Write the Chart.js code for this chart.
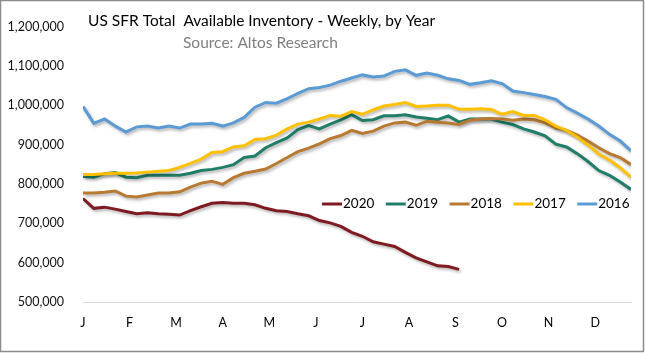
<!DOCTYPE html>
<html>
<head>
<meta charset="utf-8">
<script src="https://cdn.jsdelivr.net/npm/chart.js@4.4.1/dist/chart.umd.min.js"></script>
<style>
    body { margin: 0; background: #fff; }
    canvas { display: block; }
</style>
</head>
<body>
<canvas id="chart" width="645" height="353"></canvas>
<script>
// month tick labels (placed at the start of each month, 52 weeks per year)
const monthLabels = ['J', 'F', 'M', 'A', 'M', 'J', 'J', 'A', 'S', 'O', 'N', 'D'];
const weeksPerYear = 52;

// weekly inventory, in thousands of homes
const years = ['2020', '2019', '2018', '2017', '2016'];
const inv2020 = [763, 738, 741, 736, 730, 724, 727, 724, 723, 721, 732, 742, 751, 753, 751, 751, 747, 738, 732, 730,
                 724, 719, 707, 701, 692, 677, 667, 653, 647, 641, 626, 612, 602, 592, 590, 583];
const inv2019 = [819, 817, 826, 829, 817, 816, 822, 822, 822, 822, 827, 834, 837, 842, 849, 867, 871, 892, 905, 917,
                 938, 948, 940, 952, 963, 976, 961, 963, 973, 973, 976, 970, 967, 963, 973, 957, 965, 965, 965, 957,
                 951, 940, 932, 922, 901, 894, 877, 857, 834, 822, 805, 786];
const inv2018 = [777, 777, 779, 782, 769, 767, 772, 777, 777, 780, 792, 802, 807, 799, 816, 827, 832, 838, 852, 867,
                 882, 891, 902, 915, 923, 936, 928, 934, 947, 955, 957, 949, 959, 957, 955, 951, 962, 965, 966, 965,
                 962, 965, 963, 955, 942, 936, 924, 909, 892, 877, 867, 849];
const inv2017 = [824, 824, 826, 827, 827, 828, 830, 832, 834, 842, 852, 863, 880, 882, 894, 897, 913, 915, 924, 940,
                 952, 957, 965, 974, 972, 984, 977, 988, 998, 1002, 1007, 997, 998, 1000, 1000, 990, 990, 991, 989, 977,
                 984, 974, 974, 963, 947, 936, 919, 899, 876, 861, 841, 817];
const inv2016 = [997, 954, 965, 947, 932, 945, 947, 942, 947, 942, 952, 952, 954, 947, 955, 969, 995, 1007, 1005, 1017,
                 1030, 1042, 1045, 1051, 1061, 1069, 1077, 1072, 1074, 1086, 1090, 1076, 1082, 1076, 1067, 1063, 1053, 1057, 1062, 1055,
                 1036, 1032, 1027, 1022, 1015, 994, 980, 965, 947, 926, 909, 884];

const seriesData = [inv2020, inv2019, inv2018, inv2017, inv2016];
const colors = ['#7d1a22', '#1f7d68', '#b87a31', '#ffc000', '#5b9bd5'];

const FONT = 'Lato, "Open Sans", sans-serif';

const toPoints = arr => arr.map((v, i) => ({ x: i, y: v * 1000 }));

// titles, legend, frame and the soft line shadow
const decorations = {
    id: 'decorations',
    beforeDatasetsDraw(chart) {
        const ctx = chart.ctx;
        ctx.save();
        ctx.shadowColor = 'rgba(0, 0, 0, 0.3)';
        ctx.shadowBlur = 3;
        ctx.shadowOffsetX = 1.5;
        ctx.shadowOffsetY = 2;
    },
    afterDatasetsDraw(chart) {
        chart.ctx.restore();
    },
    afterDraw(chart) {
        const ctx = chart.ctx;
        ctx.save();

        ctx.textBaseline = 'middle';
        ctx.textAlign = 'left';
        ctx.fillStyle = '#000';
        ctx.font = '15.5px ' + FONT;
        ctx.fillText('US SFR Total  Available Inventory - Weekly, by Year', 88, 21);

        ctx.fillStyle = '#7f7f7f';
        ctx.font = '15.5px ' + FONT;
        ctx.fillText('Source: Altos Research', 183, 43);

        // legend
        ctx.font = '13.5px ' + FONT;
        ctx.lineWidth = 3;
        years.forEach((yr, i) => {
            const x0 = 322 + i * 63.8;
            ctx.strokeStyle = colors[i];
            ctx.beginPath();
            ctx.moveTo(x0, 204);
            ctx.lineTo(x0 + 20, 204);
            ctx.stroke();
            ctx.fillStyle = '#000';
            ctx.fillText(yr, x0 + 21, 204);
        });

        // outer frame
        ctx.strokeStyle = '#8c8c8c';
        ctx.lineWidth = 1.5;
        ctx.strokeRect(0.5, 0.5, 643, 351);
        ctx.restore();
    }
};

const ctx = document.getElementById('chart').getContext('2d');
new Chart(ctx, {
    type: 'line',
    data: {
        datasets: years.map((yr, i) => ({
            label: yr,
            data: toPoints(seriesData[i]),
            borderColor: colors[i],
            backgroundColor: colors[i],
            borderWidth: 3,
            pointRadius: 0,
            tension: 0,
            fill: false,
            order: years.length - i
        }))
    },
    options: {
        responsive: false,
        animation: false,
        devicePixelRatio: 1,
        layout: {
            padding: { left: 0, top: 21, right: 14, bottom: 0 }
        },
        plugins: {
            legend: { display: false },
            tooltip: { enabled: false }
        },
        scales: {
            x: {
                type: 'linear',
                min: 0,
                max: weeksPerYear - 1,
                afterBuildTicks: scale => {
                    scale.ticks = monthLabels.map((m, i) => ({ value: i * weeksPerYear / 12 }));
                },
                afterFit: scale => { scale.height = 51; },
                grid: { display: false, drawTicks: false },
                border: { display: true, color: '#d9d9d9', width: 1 },
                ticks: {
                    autoSkip: false,
                    maxRotation: 0,
                    padding: 13,
                    color: '#000',
                    font: { family: FONT, size: 12.5 },
                    callback: (v, i) => monthLabels[i]
                }
            },
            y: {
                min: 500000,
                max: 1200000,
                afterFit: scale => { scale.width = 83; },
                grid: { display: false, drawTicks: false },
                border: { display: false },
                ticks: {
                    stepSize: 100000,
                    padding: 19,
                    color: '#111',
                    font: { family: FONT, size: 12.5 },
                    callback: v => v.toLocaleString('en-US')
                }
            }
        }
    },
    plugins: [decorations]
});
</script>
</body>
</html>
